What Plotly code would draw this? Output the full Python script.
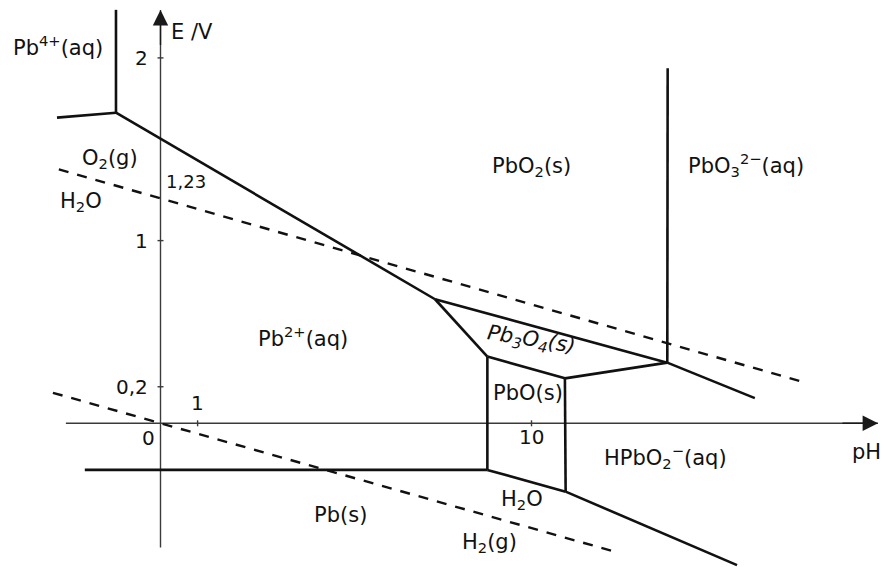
import plotly.graph_objects as go

# Potential–pH (Pourbaix) diagram of lead, E in V versus pH

# --- boundary lines between domains (pH, E/V) ---
pb4_pbo2_ph = [-2.79, -1.20]
pb4_pbo2_e = [1.673, 1.700]

pb4_vert_ph = [-1.20, -1.20]
pb4_vert_e = [1.700, 2.263]

pb2_pbo2_ph = [-1.20, 7.40]
pb2_pbo2_e = [1.700, 0.679]

pb2_pb3o4_ph = [7.40, 8.81]
pb2_pb3o4_e = [0.679, 0.365]

pbo2_pb3o4_ph = [7.40, 13.66]
pbo2_pb3o4_e = [0.679, 0.332]

pb3o4_pbo_ph = [8.81, 10.90]
pb3o4_pbo_e = [0.365, 0.246]

pb3o4_hpbo2_ph = [10.90, 13.66]
pb3o4_hpbo2_e = [0.246, 0.332]

pbo3_vert_ph = [13.66, 13.67]
pbo3_vert_e = [0.332, 1.943]

pbo2_hpbo2_ph = [13.66, 16.02]
pbo2_hpbo2_e = [0.332, 0.138]

pb2_pbo_ph = [8.81, 8.81]
pb2_pbo_e = [0.365, -0.255]

pbo_hpbo2_ph = [10.90, 10.92]
pbo_hpbo2_e = [0.246, -0.374]

pb_pb2_ph = [-2.04, 8.81]
pb_pb2_e = [-0.255, -0.255]

pb_pbo_ph = [8.81, 10.92]
pb_pbo_e = [-0.255, -0.374]

pb_hpbo2_ph = [10.92, 15.54]
pb_hpbo2_e = [-0.374, -0.776]

# --- water stability limits (dashed) ---
o2_h2o_ph = [-2.74, 17.32]
o2_h2o_e = [1.39, 0.226]

h2o_h2_ph = [-2.90, 12.25]
h2o_h2_e = [0.167, -0.703]

# --- axes ---
ph_axis_span = [-2.55, 19.34]
e_axis_span = [-0.68, 2.262]
e_ticks = [2, 1, 0.2]
e_tick_labels = ["2", "1", "0,2"]
ph_ticks = [1, 10]
ph_tick_labels = ["1", "10"]

# --- domain labels (text, pH, E) ---
species = [
    ("Pb<sup>4+</sup>(aq)", -2.76, 2.065),
    ("O<sub>2</sub>(g)", -1.36, 1.447),
    ("H<sub>2</sub>O", -2.14, 1.211),
    ("PbO<sub>2</sub>(s)", 9.99, 1.403),
    ("PbO<sub>3</sub><sup>2−</sup>(aq)", 15.78, 1.414),
    ("Pb<sup>2+</sup>(aq)", 3.84, 0.472),
    ("PbO(s)", 9.91, 0.166),
    ("HPbO<sub>2</sub><sup>−</sup>(aq)", 13.60, -0.184),
    ("H<sub>2</sub>O", 9.74, -0.420),
    ("Pb(s)", 4.84, -0.503),
    ("H<sub>2</sub>(g)", 8.88, -0.655),
]

FONT = "DejaVu Sans"
INK = "#111111"

fig = go.Figure()

solid = [
    (pb4_pbo2_ph, pb4_pbo2_e), (pb4_vert_ph, pb4_vert_e),
    (pb2_pbo2_ph, pb2_pbo2_e), (pb2_pb3o4_ph, pb2_pb3o4_e),
    (pbo2_pb3o4_ph, pbo2_pb3o4_e), (pb3o4_pbo_ph, pb3o4_pbo_e),
    (pb3o4_hpbo2_ph, pb3o4_hpbo2_e), (pbo3_vert_ph, pbo3_vert_e),
    (pbo2_hpbo2_ph, pbo2_hpbo2_e), (pb2_pbo_ph, pb2_pbo_e),
    (pbo_hpbo2_ph, pbo_hpbo2_e), (pb_pb2_ph, pb_pb2_e),
    (pb_pbo_ph, pb_pbo_e), (pb_hpbo2_ph, pb_hpbo2_e),
]

# axes drawn through the origin
fig.add_trace(go.Scatter(x=ph_axis_span, y=[0, 0], mode="lines",
                         line=dict(color="#3a3a3a", width=1.4),
                         hoverinfo="skip", showlegend=False))
fig.add_trace(go.Scatter(x=[0, 0], y=e_axis_span, mode="lines",
                         line=dict(color="#3a3a3a", width=1.4),
                         hoverinfo="skip", showlegend=False))

for xs, ys in solid:
    fig.add_trace(go.Scatter(x=xs, y=ys, mode="lines",
                             line=dict(color=INK, width=2.6),
                             hoverinfo="skip", showlegend=False))

for xs, ys in [(o2_h2o_ph, o2_h2o_e), (h2o_h2_ph, h2o_h2_e)]:
    fig.add_trace(go.Scatter(x=xs, y=ys, mode="lines",
                             line=dict(color=INK, width=2.4, dash="10px,9px"),
                             hoverinfo="skip", showlegend=False))

annotations = []

# arrowheads at the axis ends
annotations.append(dict(x=ph_axis_span[1], y=0, ax=ph_axis_span[1] - 1.0, ay=0,
                        xref="x", yref="y", axref="x", ayref="y", text="",
                        showarrow=True, arrowhead=2, arrowsize=2.2,
                        arrowwidth=1.4, arrowcolor="#1a1a1a"))
annotations.append(dict(x=0, y=e_axis_span[1], ax=0, ay=e_axis_span[1] - 0.2,
                        xref="x", yref="y", axref="x", ayref="y", text="",
                        showarrow=True, arrowhead=2, arrowsize=2.2,
                        arrowwidth=1.4, arrowcolor="#1a1a1a"))

shapes = []
for e in e_ticks:
    shapes.append(dict(type="line", xref="x", yref="y", xsizemode="pixel",
                       xanchor=0, x0=-3, x1=3, y0=e, y1=e,
                       line=dict(color="#3a3a3a", width=1.4)))
for p in ph_ticks:
    shapes.append(dict(type="line", xref="x", yref="y", ysizemode="pixel",
                       yanchor=0, y0=-3, y1=3, x0=p, x1=p,
                       line=dict(color="#3a3a3a", width=1.4)))

tick_font = dict(family=FONT, size=20, color=INK)
for e, lab in zip(e_ticks, e_tick_labels):
    annotations.append(dict(x=0, y=e, xref="x", yref="y", text=lab,
                            showarrow=False, xanchor="right", yanchor="middle",
                            xshift=-11, font=tick_font))
annotations.append(dict(x=0, y=1.23, xref="x", yref="y", text="1,23",
                        showarrow=False, xanchor="left", yanchor="middle",
                        xshift=3, yshift=17,
                        font=dict(family=FONT, size=18, color=INK)))
for p, lab in zip(ph_ticks, ph_tick_labels):
    shift = 20 if p == ph_ticks[0] else -14
    annotations.append(dict(x=p, y=0, xref="x", yref="y", text=lab,
                            showarrow=False, xanchor="center", yanchor="middle",
                            yshift=shift, font=tick_font))
annotations.append(dict(x=0, y=0, xref="x", yref="y", text="0",
                        showarrow=False, xanchor="center", yanchor="middle",
                        xshift=-12, yshift=-15, font=tick_font))

# axis titles
annotations.append(dict(x=0.85, y=2.142, xref="x", yref="y", text="E /V",
                        showarrow=False, font=dict(family=FONT, size=21, color=INK)))
annotations.append(dict(x=19.04, y=-0.157, xref="x", yref="y", text="pH",
                        showarrow=False, font=dict(family=FONT, size=21, color=INK)))

label_font = dict(family=FONT, size=21, color=INK)
for txt, x, y in species:
    annotations.append(dict(x=x, y=y, xref="x", yref="y", text=txt,
                            showarrow=False, font=label_font))

annotations.append(dict(x=9.99, y=0.456, xref="x", yref="y",
                        text="<i>Pb<sub>3</sub>O<sub>4</sub>(s)</i>",
                        showarrow=False, textangle=9, font=label_font))

fig.update_layout(
    width=884, height=567,
    margin=dict(l=0, r=0, t=0, b=0),
    paper_bgcolor="white", plot_bgcolor="white",
    xaxis=dict(range=[-4.326, 19.501], visible=False, fixedrange=True),
    yaxis=dict(range=[-0.7865, 2.3169], visible=False, fixedrange=True),
    annotations=annotations, shapes=shapes,
    showlegend=False,
)

fig.write_html("out.html")
